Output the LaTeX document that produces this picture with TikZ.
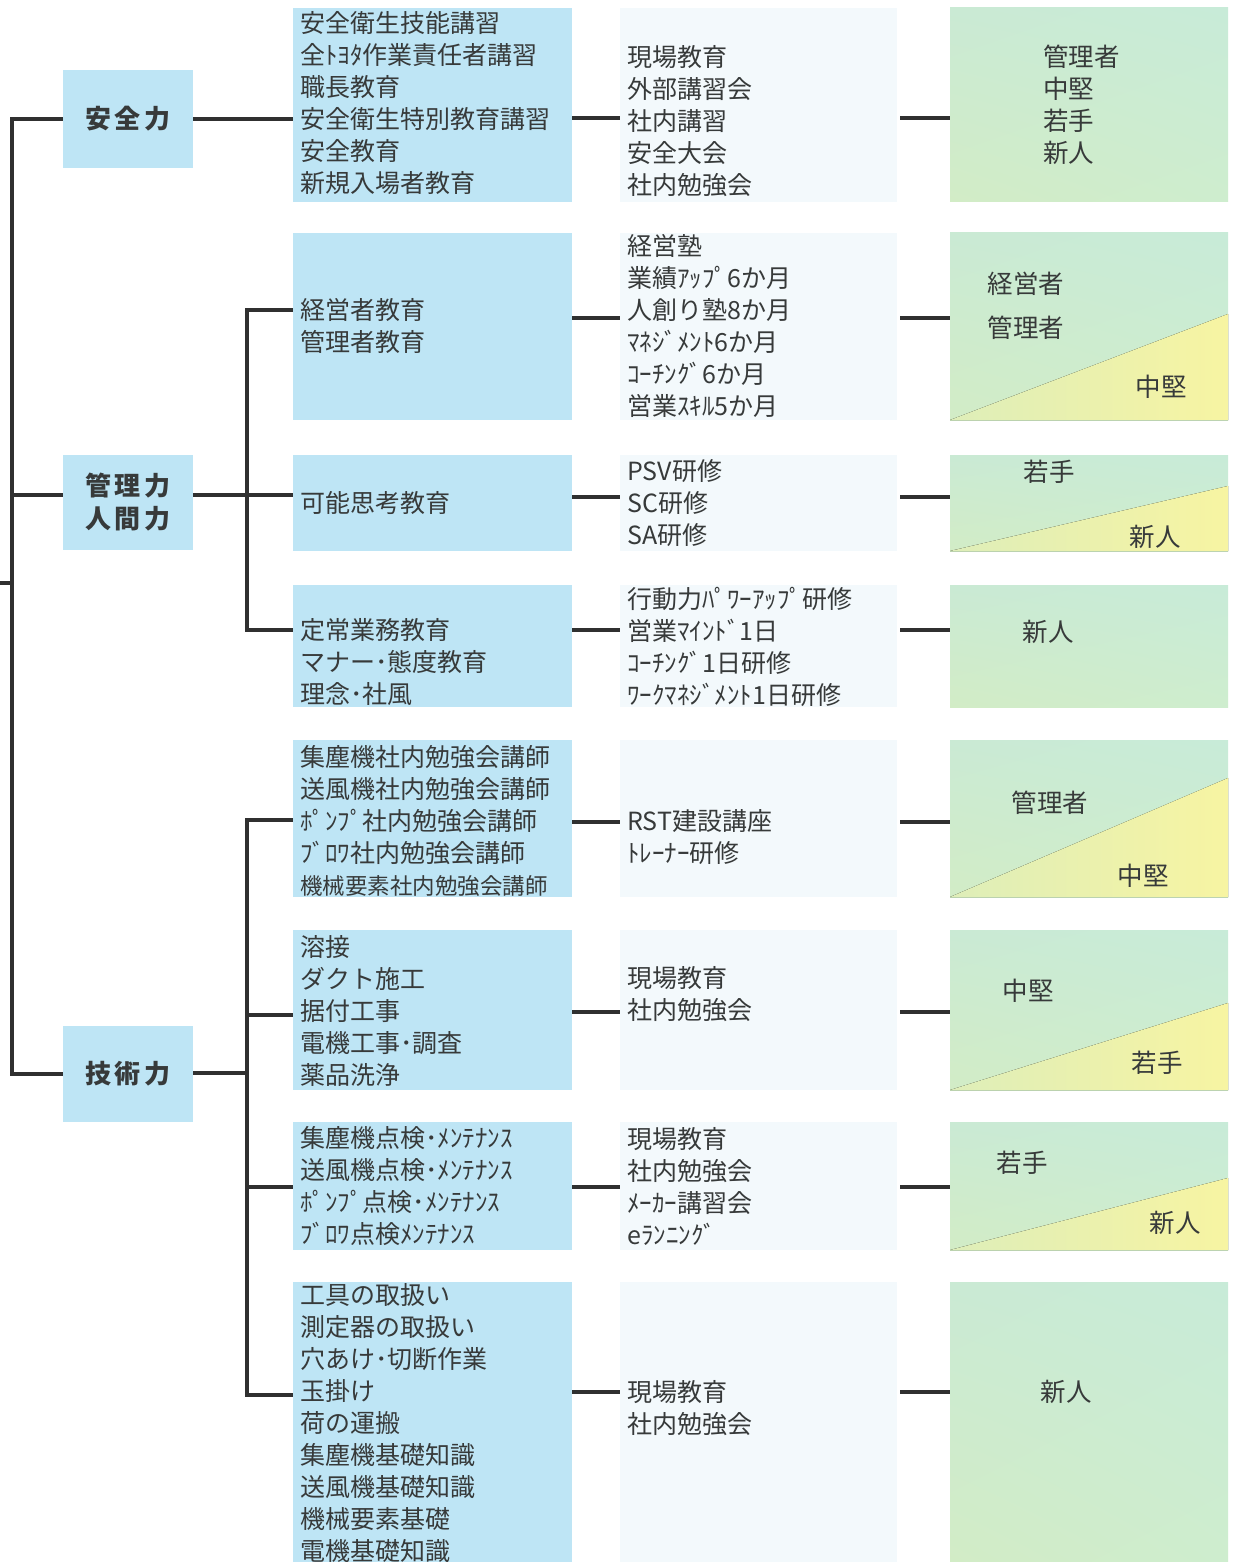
\documentclass[tikz,border=0pt]{standalone}
\usepackage{fontspec}
\usetikzlibrary{shadings}
\setmainfont{Noto Sans CJK JP}
\definecolor{itemblue}{RGB}{190,229,245}
\definecolor{midpale}{RGB}{243,249,252}
\definecolor{txt}{RGB}{55,58,58}
\definecolor{linec}{RGB}{48,48,48}
\definecolor{gUL}{RGB}{202,234,212}
\definecolor{gUR}{RGB}{200,235,216}
\definecolor{gLL}{RGB}{210,236,198}
\definecolor{gLR}{RGB}{206,237,206}
\definecolor{yL}{RGB}{222,238,185}
\definecolor{yR}{RGB}{247,244,162}
\begin{document}
\begin{tikzpicture}[x=1pt,y=-1pt,
  every node/.style={text=txt},
  catbox/.style={fill=itemblue, minimum width=130pt, inner sep=0pt, align=center,
    font=\fontsize{26}{33}\selectfont\bfseries\addfontfeature{LetterSpace=14}},
  itembox/.style={fill=itemblue, minimum width=279pt, inner sep=0pt},
  midbox/.style={fill=midpale, minimum width=277pt, inner sep=0pt},
  rbox/.style={minimum width=278pt, inner sep=0pt, draw=none,
    upper left=gUL, upper right=gUR, lower left=gLL, lower right=gLR},
  itemtxt/.style={anchor=west, align=left, inner sep=0pt, font=\fontsize{25}{32}\selectfont},
  rtxt/.style={inner sep=0pt, font=\fontsize{25.5}{32}\selectfont},
  tri/.style={left color=yL, right color=yR, draw=none},
  conn/.style={draw=linec, line width=3.2pt}
]
\useasboundingbox[fill=white] (0,0) rectangle (1233,1562);

% category boxes
\node[catbox, minimum height=98pt] (c1) at (128,119) {安全力};
\node[catbox, minimum height=95pt] (c2) at (128,502.5) {管理力\\人間力};
\node[catbox, minimum height=96pt] (c3) at (128,1074) {技術力};

% item boxes
\node[itembox, minimum height=194pt] (b1) at (432.5,105) {};
\node[itembox, minimum height=187pt] (b2) at (432.5,326.5) {};
\node[itembox, minimum height=96pt]  (b3) at (432.5,503) {};
\node[itembox, minimum height=122pt] (b4) at (432.5,646) {};
\node[itembox, minimum height=157pt] (b5) at (432.5,818.5) {};
\node[itembox, minimum height=160pt] (b6) at (432.5,1010) {};
\node[itembox, minimum height=128pt] (b7) at (432.5,1186) {};
\node[itembox, minimum height=280pt] (b8) at (432.5,1422) {};

% middle boxes
\node[midbox, minimum height=194pt] (m1) at (758.5,105) {};
\node[midbox, minimum height=187pt] (m2) at (758.5,326.5) {};
\node[midbox, minimum height=96pt]  (m3) at (758.5,503) {};
\node[midbox, minimum height=122pt] (m4) at (758.5,646) {};
\node[midbox, minimum height=157pt] (m5) at (758.5,818.5) {};
\node[midbox, minimum height=160pt] (m6) at (758.5,1010) {};
\node[midbox, minimum height=128pt] (m7) at (758.5,1186) {};
\node[midbox, minimum height=280pt] (m8) at (758.5,1422) {};

% right boxes
\node[rbox, minimum height=194pt] (r1) at (1089,105) {};
\node[rbox, minimum height=187pt] (r2) at (1089,326.5) {};
\node[rbox, minimum height=96pt]  (r3) at (1089,503) {};
\node[rbox, minimum height=122pt] (r4) at (1089,646) {};
\node[rbox, minimum height=157pt] (r5) at (1089,818.5) {};
\node[rbox, minimum height=160pt] (r6) at (1089,1010) {};
\node[rbox, minimum height=128pt] (r7) at (1089,1186) {};
\node[rbox, minimum height=280pt] (r8) at (1089,1422) {};

% yellow triangles
\fill[tri] (950,420) -- (1228,314) -- (1228,420) -- cycle;
\fill[tri] (950,551) -- (1228,486) -- (1228,551) -- cycle;
\fill[tri] (950,897) -- (1228,778) -- (1228,897) -- cycle;
\fill[tri] (950,1090) -- (1228,1003) -- (1228,1090) -- cycle;
\fill[tri] (950,1250) -- (1228,1178) -- (1228,1250) -- cycle;

% item texts
\node[itemtxt] (t1) at (300,103.5) {安全衛生技能講習\\全ﾄﾖﾀ作業責任者講習\\職長教育\\安全衛生特別教育講習\\安全教育\\新規入場者教育};
\node[itemtxt] (t2) at (300,326) {経営者教育\\管理者教育};
\node[itemtxt] (t3) at (300,503) {可能思考教育};
\node[itemtxt] (t4) at (300,662) {定常業務教育\\マナー･態度教育\\理念･社風};
\node[itemtxt] (t5) at (300,820.5) {集塵機社内勉強会講師\\送風機社内勉強会講師\\ﾎﾟﾝﾌﾟ社内勉強会講師\\ﾌﾞﾛﾜ社内勉強会講師\\{\fontsize{22.5}{32}\selectfont 機械要素社内勉強会講師}};
\node[itemtxt] (t6) at (300,1010.5) {溶接\\ダクト施工\\据付工事\\電機工事･調査\\薬品洗浄};
\node[itemtxt] (t7) at (300,1186) {集塵機点検･ﾒﾝﾃﾅﾝｽ\\送風機点検･ﾒﾝﾃﾅﾝｽ\\ﾎﾟﾝﾌﾟ点検･ﾒﾝﾃﾅﾝｽ\\ﾌﾞﾛﾜ点検ﾒﾝﾃﾅﾝｽ};
\node[itemtxt] (t8) at (300,1423.5) {工具の取扱い\\測定器の取扱い\\穴あけ･切断作業\\玉掛け\\荷の運搬\\集塵機基礎知識\\送風機基礎知識\\機械要素基礎\\電機基礎知識};

% middle texts
\node[itemtxt] (s1) at (627,121) {現場教育\\外部講習会\\社内講習\\安全大会\\社内勉強会};
\node[itemtxt] (s2) at (627,326) {経営塾\\業績ｱｯﾌﾟ6か月\\人創り塾8か月\\ﾏﾈｼﾞﾒﾝﾄ6か月\\ｺｰﾁﾝｸﾞ6か月\\営業ｽｷﾙ5か月};
\node[itemtxt] (s3) at (627,503.5) {PSV研修\\SC研修\\SA研修};
\node[itemtxt] (s4) at (627,646.5) {行動力ﾊﾟﾜｰｱｯﾌﾟ研修\\営業ﾏｲﾝﾄﾞ1日\\ｺｰﾁﾝｸﾞ1日研修\\ﾜｰｸﾏﾈｼﾞﾒﾝﾄ1日研修};
\node[itemtxt] (s5) at (627,837.5) {RST建設講座\\ﾄﾚｰﾅｰ研修};
\node[itemtxt] (s6) at (627,994) {現場教育\\社内勉強会};
\node[itemtxt] (s7) at (627,1186) {現場教育\\社内勉強会\\ﾒｰｶｰ講習会\\eﾗﾝﾆﾝｸﾞ};
\node[itemtxt] (s8) at (627,1408) {現場教育\\社内勉強会};

% right texts
\node[rtxt, anchor=west, align=left] (q1) at (1043,105) {管理者\\中堅\\若手\\新人};
\node[rtxt] (q2a) at (1026,284) {経営者};
\node[rtxt] (q2b) at (1026,328) {管理者};
\node[rtxt] (q2c) at (1161,387) {中堅};
\node[rtxt] (q3a) at (1049,472) {若手};
\node[rtxt] (q3b) at (1155,537) {新人};
\node[rtxt] (q4)  at (1048,632) {新人};
\node[rtxt] (q5a) at (1050,803) {管理者};
\node[rtxt] (q5b) at (1143,876) {中堅};
\node[rtxt] (q6a) at (1028,991) {中堅};
\node[rtxt] (q6b) at (1157,1063) {若手};
\node[rtxt] (q7a) at (1022,1163) {若手};
\node[rtxt] (q7b) at (1175,1223) {新人};
\node[rtxt] (q8)  at (1066,1392) {新人};

% connector coordinates
\coordinate (L) at (12,583);
\coordinate (Lin) at (0,583);
\coordinate (k2) at (247,495);
\coordinate (j2) at (247,310);
\coordinate (j4) at (247,630);
\coordinate (k3) at (247,1073);
\coordinate (j5) at (247,820);
\coordinate (j6) at (247,1015);
\coordinate (j7) at (247,1187);
\coordinate (j8) at (247,1395);
\coordinate (h1) at (0,118);
\coordinate (h2) at (0,318);
\coordinate (h3) at (0,497);
\coordinate (h4) at (0,630);
\coordinate (h5) at (0,822);
\coordinate (h6) at (0,1012);
\coordinate (h7) at (0,1187);
\coordinate (h8) at (0,1392);

% left tree
\draw[conn] (c1.west) -| (L) |- (c3.west);
\draw[conn] (Lin) -- (L);
\draw[conn] (L |- k2) -- (c2.west |- k2);
\draw[conn] (c1.east) -- (b1.west |- c1.east);
\draw[conn] (c2.east |- k2) -- (b3.west |- k2);
\draw[conn] (b2.west |- j2) -- (j2) -- (j4) -- (b4.west |- j4);
\draw[conn] (c3.east |- k3) -- (k3);
\draw[conn] (b5.west |- j5) -- (j5) -- (j8) -- (b8.west |- j8);
\draw[conn] (j6) -- (b6.west |- j6);
\draw[conn] (j7) -- (b7.west |- j7);

% item -> middle -> right
\foreach \i in {1,...,8} {
  \draw[conn] (b\i.east |- h\i) -- (m\i.west |- h\i);
  \draw[conn] ([xshift=3pt]m\i.east |- h\i) -- (r\i.west |- h\i);
}
\end{tikzpicture}
\end{document}
